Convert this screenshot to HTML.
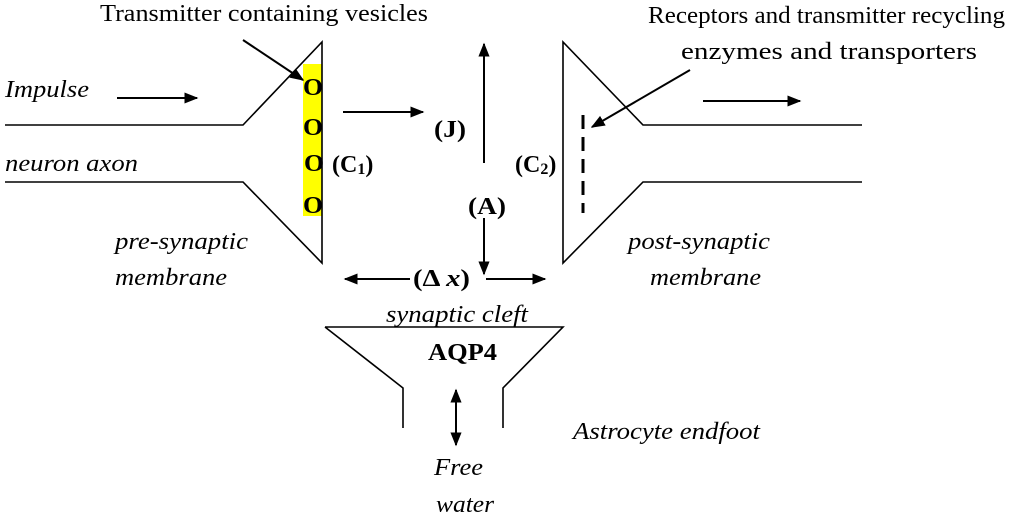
<!DOCTYPE html>
<html><head><style>body{margin:0;background:#fff}svg{display:block}text{font-family:"Liberation Serif",serif;font-size:24px;fill:#000}.i{font-style:italic}.b{font-weight:bold}</style></head><body>
<svg width="1024" height="518" viewBox="0 0 1024 518" xmlns="http://www.w3.org/2000/svg">
<defs><marker id="a" viewBox="0 0 10 10" refX="9" refY="5" markerWidth="7" markerHeight="7" orient="auto-start-reverse"><path d="M0,1 L10,5 L0,9 z" fill="#000"/></marker></defs>
<g stroke="#000" stroke-width="1.6" fill="none">
<rect x="303" y="64" width="19" height="152" fill="#ffff00" stroke="none"/>
<path d="M5,125H243L322,42V263L243,182H5"/>
<path d="M862,125H643L563,42V263L643,182H862"/>
<path d="M583,115V213" stroke-width="3" stroke-dasharray="14,8"/>
<path d="M325,327H563L503,388V428M325,327L403,388V428"/>
<g stroke-width="2" marker-end="url(#a)">
<path d="M117,98H197"/><path d="M703,101H800"/><path d="M343,112H423"/>
<path d="M484,163V44"/><path d="M484,218V274"/>
<path d="M410,279H345"/><path d="M486,279H545"/>
<path d="M243,40L303,80"/><path d="M690,70L592,127"/>
<path d="M456,390V445" marker-start="url(#a)"/>
</g></g>
<g class="b">
<text x="303" y="95" class="b" textLength="20" lengthAdjust="spacingAndGlyphs">O</text><text x="303" y="135" class="b" textLength="20" lengthAdjust="spacingAndGlyphs">O</text><text x="304" y="171" class="b" textLength="20" lengthAdjust="spacingAndGlyphs">O</text><text x="303" y="213" class="b" textLength="20" lengthAdjust="spacingAndGlyphs">O</text>
</g>
<text x="100" y="21" textLength="328" lengthAdjust="spacingAndGlyphs">Transmitter containing vesicles</text>
<text x="648" y="23" textLength="357" lengthAdjust="spacingAndGlyphs">Receptors and transmitter recycling</text>
<text x="681" y="59" textLength="296" lengthAdjust="spacingAndGlyphs">enzymes and transporters</text>
<text x="5" y="97" class="i" textLength="84" lengthAdjust="spacingAndGlyphs">Impulse</text>
<text x="5" y="171" class="i" textLength="133" lengthAdjust="spacingAndGlyphs">neuron axon</text>
<text x="115" y="249" class="i" textLength="133" lengthAdjust="spacingAndGlyphs">pre-synaptic</text>
<text x="115" y="285" class="i" textLength="112" lengthAdjust="spacingAndGlyphs">membrane</text>
<text x="332" y="172" class="b">(C<tspan font-size="16" dy="2">1</tspan><tspan dy="-2">)</tspan></text>
<text x="434" y="137" class="b" textLength="32" lengthAdjust="spacingAndGlyphs">(J)</text>
<text x="468" y="214" class="b" textLength="38" lengthAdjust="spacingAndGlyphs">(A)</text>
<text x="515" y="172" class="b">(C<tspan font-size="16" dy="2">2</tspan><tspan dy="-2">)</tspan></text>
<text x="413" y="286" class="b" textLength="57" lengthAdjust="spacingAndGlyphs">(Δ <tspan class="i">x</tspan>)</text>
<text x="386" y="322" class="i" textLength="142" lengthAdjust="spacingAndGlyphs">synaptic cleft</text>
<text x="428" y="360" class="b" textLength="69" lengthAdjust="spacingAndGlyphs">AQP4</text>
<text x="628" y="249" class="i" textLength="142" lengthAdjust="spacingAndGlyphs">post-synaptic</text>
<text x="650" y="285" class="i" textLength="111" lengthAdjust="spacingAndGlyphs">membrane</text>
<text x="573" y="439" class="i" textLength="187" lengthAdjust="spacingAndGlyphs">Astrocyte endfoot</text>
<text x="434" y="475" class="i" textLength="49" lengthAdjust="spacingAndGlyphs">Free</text>
<text x="436" y="512" class="i" textLength="58" lengthAdjust="spacingAndGlyphs">water</text>
</svg></body></html>
